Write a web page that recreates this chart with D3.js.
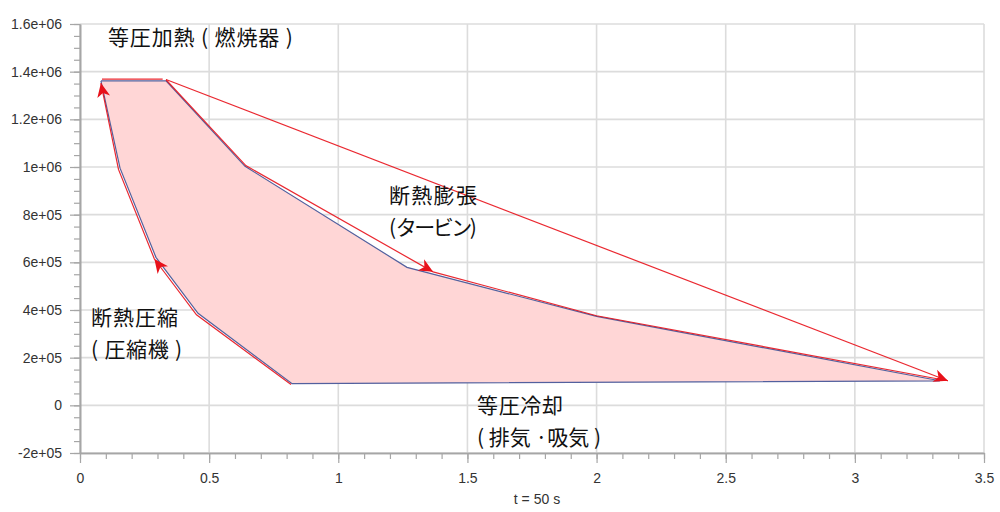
<!DOCTYPE html>
<html><head><meta charset="utf-8">
<script src="https://cdn.jsdelivr.net/npm/d3@7"></script>
<style>body{margin:0;background:#fff}</style>
</head><body><svg id="c" width="1000" height="512"></svg>
<script>
// ---- data ----
const xTicks = [0, 0.5, 1, 1.5, 2, 2.5, 3, 3.5];
const xTickLabels = ["0", "0.5", "1", "1.5", "2", "2.5", "3", "3.5"];
const yTicks = [-2e5, 0, 2e5, 4e5, 6e5, 8e5, 1e6, 1.2e6, 1.4e6, 1.6e6];
const yTickLabels = ["-2e+05", "0", "2e+05", "4e+05", "6e+05", "8e+05", "1e+06", "1.2e+06", "1.4e+06", "1.6e+06"];
const xTitle = "t = 50 s";

// cycle outline (blue) and fill
const cycleX = [0.081, 0.333, 0.639, 1.266, 2.0, 3.329, 0.821, 0.457, 0.294, 0.155, 0.081];
const cycleY = [1.361e6, 1.361e6, 1.003e6, 5.79e5, 3.73e5, 1.03e5, 0.91e5, 3.86e5, 6.21e5, 9.95e5, 1.361e6];

// red flow traces (each ends with an arrow head except heat)
const heatX = [0.085, 0.32];
const heatY = [1.369e6, 1.369e6];
const expAX = [0.333, 0.642, 1.367];
const expAY = [1.366e6, 1.006e6, 5.6e5];
const expBX = [1.367, 2.0, 3.36];
const expBY = [5.6e5, 3.76e5, 1.03e5];
const diagX = [0.333, 3.36];
const diagY = [1.367e6, 1.03e5];
const compAX = [0.817, 0.451, 0.288];
const compAY = [0.87e5, 3.8e5, 6.14e5];
const compBX = [0.288, 0.149, 0.081];
const compBY = [6.14e5, 9.9e5, 1.352e6];

const labelTexts = [
  ["等圧加熱 ( 燃焼器 )"],
  ["断熱膨張", "( タービン)"],
  ["断熱圧縮", "( 圧縮機 )"],
  ["等圧冷却", "( 排気 ·吸気 )"]
];
const labelX = [0.108, 1.196, 0.043, 1.537];
const labelY = [1.511e6, 8.48e5, 3.36e5, -3.4e4];

// ---- drawing ----
const svg = d3.select("#c");
const x = d3.scaleLinear().domain([0, 3.5]).range([80, 984]);
const y = d3.scaleLinear().domain([-2e5, 1.6e6]).range([453, 24]);

// grid
svg.append("g").selectAll("line").data(xTicks).join("line")
  .attr("x1", d => x(d)).attr("x2", d => x(d))
  .attr("y1", y(1.6e6)).attr("y2", y(-2e5))
  .attr("stroke", "#dcdcdc").attr("stroke-width", 1.6);
svg.append("g").selectAll("line").data(yTicks).join("line")
  .attr("x1", x(0)).attr("x2", x(3.5))
  .attr("y1", d => y(d)).attr("y2", d => y(d))
  .attr("stroke", "#dcdcdc").attr("stroke-width", 1.6);

// axes
const minorX = d3.range(0, 36).map(i => i / 10);
const minorY = d3.range(-4, 33).map(i => i * 5e4);
function styleAxis(g) {
  g.select(".domain").attr("stroke", "#a6a6a6").attr("stroke-width", 1.6);
  g.selectAll(".tick line").attr("stroke", "#a6a6a6").attr("stroke-width", 1.2);
  g.selectAll("text").attr("font-family", "Liberation Sans, Arial, sans-serif")
    .attr("font-size", 14).attr("fill", "#333");
}
svg.append("g").attr("transform", `translate(0,${y(-2e5)})`)
  .call(d3.axisBottom(x).tickValues(minorX).tickSize(6).tickSizeOuter(0).tickFormat(""))
  .call(styleAxis);
svg.append("g").attr("transform", `translate(0,${y(-2e5)})`)
  .call(d3.axisBottom(x).tickValues(xTicks).tickSize(10).tickSizeOuter(0).tickPadding(10)
    .tickFormat((d, i) => xTickLabels[i]))
  .call(styleAxis);
svg.append("g").attr("transform", `translate(${x(0)},0)`)
  .call(d3.axisLeft(y).tickValues(minorY).tickSize(6).tickSizeOuter(0).tickFormat(""))
  .call(styleAxis);
svg.append("g").attr("transform", `translate(${x(0)},0)`)
  .call(d3.axisLeft(y).tickValues(yTicks).tickSize(10).tickSizeOuter(0).tickPadding(8)
    .tickFormat((d, i) => yTickLabels[i]))
  .call(styleAxis);

svg.append("text").attr("x", 537).attr("y", 504).attr("text-anchor", "middle")
  .attr("font-family", "Liberation Sans, Arial, sans-serif").attr("font-size", 14)
  .attr("fill", "#333").text(xTitle);

// cycle fill + outline
const line = d3.line().x(d => x(d[0])).y(d => y(d[1]));
const cyc = cycleX.map((v, i) => [v, cycleY[i]]);
svg.append("path").attr("d", line(cyc) + "Z").attr("fill", "#ffd6d6").attr("stroke", "none");
svg.append("path").attr("d", line(cyc)).attr("fill", "none")
  .attr("stroke", "#52609e").attr("stroke-width", 1.2);

// red traces
const red = "#e8111a";
function trace(xs, ys, arrow) {
  const pts = xs.map((v, i) => [v, ys[i]]);
  svg.append("path").attr("d", line(pts)).attr("fill", "none")
    .attr("stroke", red).attr("stroke-width", 1.2).attr("stroke-opacity", 0.9);
  if (arrow) {
    const n = pts.length;
    const x1 = x(pts[n - 2][0]), y1 = y(pts[n - 2][1]);
    const x2 = x(pts[n - 1][0]), y2 = y(pts[n - 1][1]);
    const a = Math.atan2(y2 - y1, x2 - x1) * 180 / Math.PI;
    svg.append("path").attr("d", "M0,0L-14,-6.5L-10,0L-14,6.5Z")
      .attr("transform", `translate(${x2},${y2}) rotate(${a})`)
      .attr("fill", red);
  }
}
trace(heatX, heatY, false);
trace(expAX, expAY, true);
trace(expBX, expBY, false);
trace(diagX, diagY, true);
trace(compAX, compAY, true);
trace(compBX, compBY, true);

// annotations
const widths = [[185], [88, 88], [87, 91], [86, 124]];
labelTexts.forEach((lines, k) => {
  lines.forEach((t, j) => {
    svg.append("text").attr("x", x(labelX[k])).attr("y", y(labelY[k]) + j * 32)
      .attr("font-family", "Noto Sans CJK JP, sans-serif").attr("font-size", 21)
      .attr("fill", "#111")
      .attr("textLength", widths[k][j]).attr("lengthAdjust", "spacing")
      .text(t);
  });
});
</script></body></html>
